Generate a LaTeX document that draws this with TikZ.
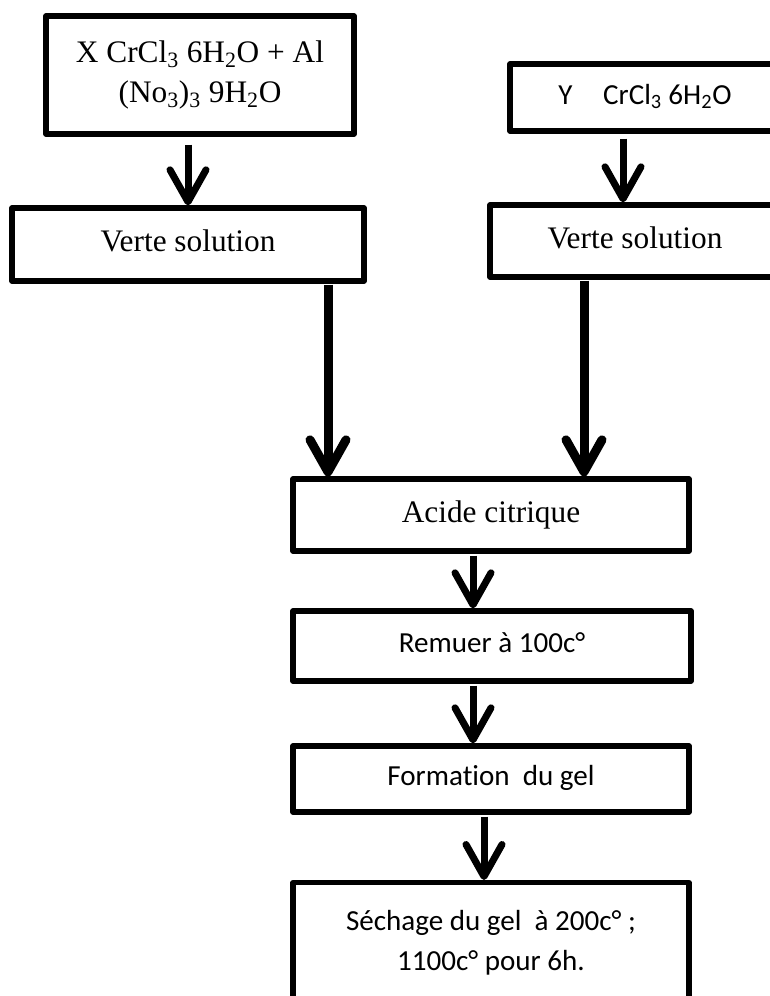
\documentclass[tikz,border=0pt]{standalone}
\usepackage{fontspec}
\setmainfont{Liberation Serif}
\newfontfamily\calfont[Ligatures=NoCommon]{Carlito}
\usetikzlibrary{arrows.meta,calc}
\tikzset{
  box/.style={draw=black, line width=4pt, inner sep=0pt, line join=round},
  seriftxt/.style={font=\fontsize{23.5pt}{30pt}\selectfont},
  sanstxt/.style={font=\calfont\fontsize{21.8pt}{30pt}\selectfont},
  serifline/.style={box, seriftxt, text height=16.5pt, text depth=5.9pt},
  sansline/.style={box, sanstxt, text height=15.3pt, text depth=5.4pt},
  flow/.style={line width=5.25pt, -{Straight Barb[length=24pt,width=27pt,round]}},
  longflow/.style={flow, line width=6.75pt},
}
\begin{document}
\begin{tikzpicture}[x=0.75pt,y=-0.75pt]
\useasboundingbox (0,0) rectangle (769,996);
\fill[white] (0,0) rectangle (769,996);

\node[box, seriftxt, align=center, minimum width=231pt, minimum height=88.5pt] (A) at (200,75)
  {X CrCl\textsubscript{3} 6H\textsubscript{2}O + Al\\(No\textsubscript{3})\textsubscript{3} 9H\textsubscript{2}O};
\node[sansline, minimum width=202.5pt, minimum height=50.25pt] (B) at (645,97.5)
  {Y\hspace{1.05em}CrCl\textsubscript{3} 6H\textsubscript{2}O};
\node[serifline, minimum width=264pt, minimum height=54.75pt] (C) at (188,244.5) {Verte solution};
\node[serifline, minimum width=217.5pt, minimum height=54pt] (D) at (635,241) {Verte solution};
\node[serifline, minimum width=297pt, minimum height=54pt] (E) at (491,515) {Acide citrique};
\node[sansline, minimum width=298.5pt, minimum height=52.5pt] (F) at (492,646) {Remuer à 100c°};
\node[sansline, minimum width=297pt, minimum height=49.5pt] (G) at (491,779) {Formation\ \ du gel};
\node[box, sanstxt, align=center, anchor=north, minimum width=297pt, inner ysep=0pt, text depth=120pt] (H) at (491,880)
  {\rule{0pt}{35.5pt}Séchage du gel\ \ à 200c° ;\\1100c° pour 6h.};

\draw[flow] ($(A.south)+(-12,8)$) -- (C.north);
\draw[flow] ($(B.south)+(-22,5)$) -- ($(D.north)+(-12,0)$);
\draw[longflow] ($(C.south)+(140,1)$) -- ($(E.north)+(-163,0)$);
\draw[longflow] ($(D.south)+(-51,1)$) -- ($(E.north)+(93,0)$);
\draw[flow] ($(E.south)+(-18,2)$) -- ($(F.north)+(-19,0)$);
\draw[flow] ($(F.south)+(-19,2)$) -- ($(G.north)+(-18,0)$);
\draw[flow] ($(G.south)+(-7,2)$) -- ($(H.north)+(-7,0)$);
\end{tikzpicture}
\end{document}
